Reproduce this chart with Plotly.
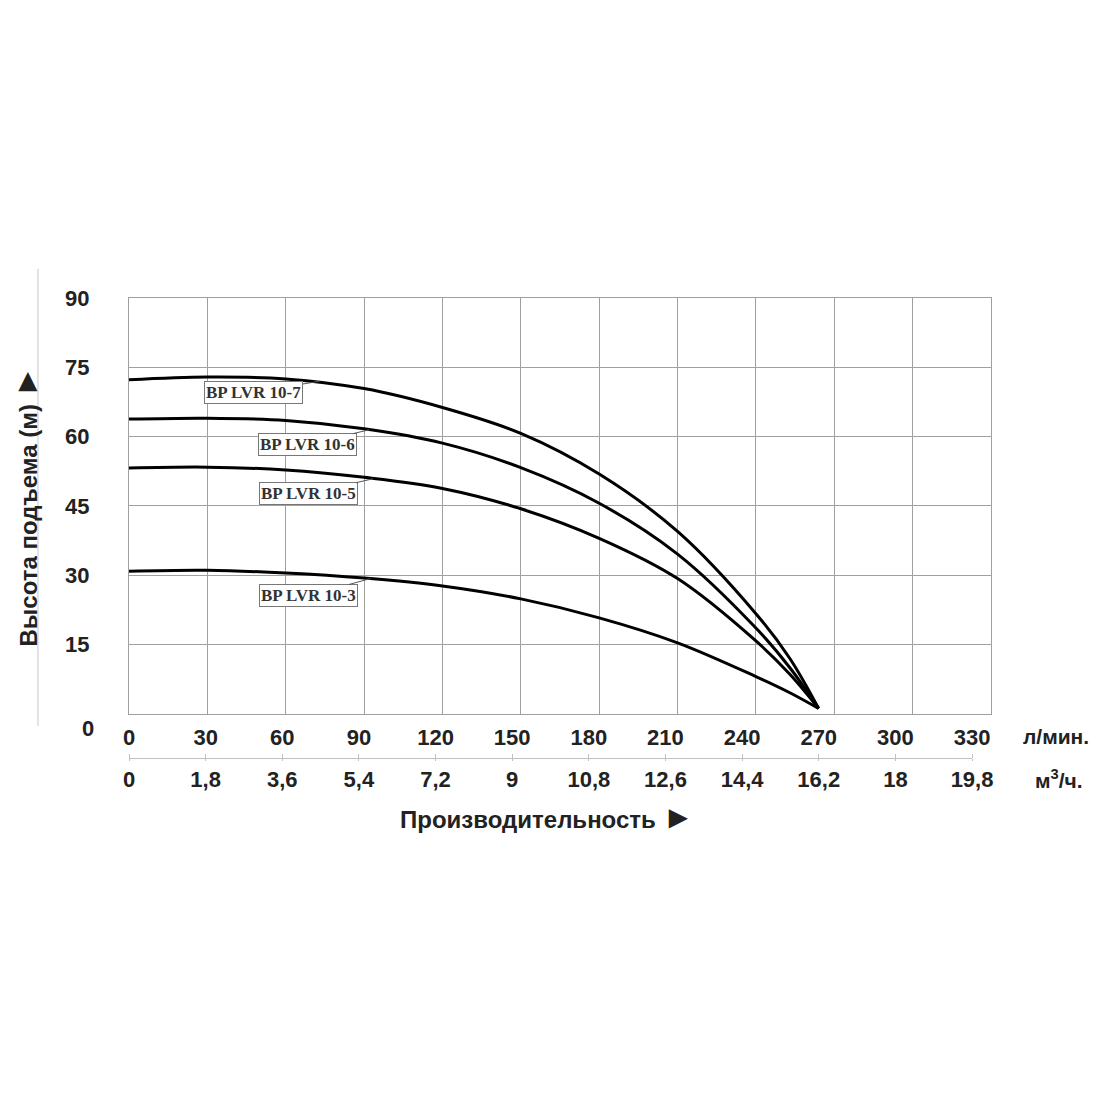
import plotly.graph_objects as go

# расход, л/мин
flow = [0, 30, 60, 90, 120, 150, 180, 210, 240, 253, 264]

# напор, м
head_10_7 = [72.3, 72.9, 72.5, 70.4, 66.3, 60.7, 51.9, 39.5, 21.7, 12.0, 1.2]
head_10_6 = [63.8, 64.0, 63.5, 61.7, 58.6, 53.3, 45.6, 34.6, 18.6, 10.0, 1.2]
head_10_5 = [53.2, 53.4, 52.8, 51.2, 48.8, 44.4, 38.0, 29.3, 15.8, 8.6, 1.2]
head_10_3 = [30.9, 31.1, 30.5, 29.4, 27.7, 24.9, 20.8, 15.4, 8.1, 4.6, 1.2]

models = ['BP LVR 10-7', 'BP LVR 10-6', 'BP LVR 10-5', 'BP LVR 10-3']

lpm_ticks = [0, 30, 60, 90, 120, 150, 180, 210, 240, 270, 300, 330]
m3h_ticks = [0, 1.8, 3.6, 5.4, 7.2, 9, 10.8, 12.6, 14.4, 16.2, 18, 19.8]
m3h_text = ['0', '1,8', '3,6', '5,4', '7,2', '9', '10,8', '12,6', '14,4', '16,2', '18', '19,8']
head_ticks = [15, 30, 45, 60, 75, 90]

# точки выносок (расход, напор) и смещение подписи
label_pts = [(73, 72.0, -66, 11), (92, 61.5, -62, 15), (93.5, 50.9, -65, 15), (92.5, 29.3, -62, 17)]

bold = dict(family='Liberation Sans', size=22, color='#222', weight='bold')
unit_font = dict(family='Liberation Sans', size=21, color='#222', weight='bold')
title_font = dict(family='Liberation Sans', size=24, color='#222', weight='bold')
grid = '#a0a0a0'
tri = '<span style="font-size:32px">►</span>'

fig = go.Figure()
for name, h in zip(models, [head_10_7, head_10_6, head_10_5, head_10_3]):
    fig.add_trace(go.Scatter(x=flow, y=h, mode='lines', name=name, hoverinfo='skip',
                             line=dict(color='black', width=3, shape='spline', smoothing=1.0)))

# пустые трассы в нижней полосе, чтобы шкалы л/мин и м3/ч были нарисованы
fig.add_trace(go.Scatter(x=[0], y=[0], xaxis='x2', yaxis='y2', mode='markers',
                         marker=dict(opacity=0), hoverinfo='skip'))
fig.add_trace(go.Scatter(x=[0], y=[0], xaxis='x3', yaxis='y2', mode='markers',
                         marker=dict(opacity=0), hoverinfo='skip'))

for name, (fx, fy, ax, ay) in zip(models, label_pts):
    fig.add_annotation(x=fx, y=fy, xref='x', yref='y', text=name, showarrow=True,
                       arrowhead=0, arrowwidth=1, arrowcolor='#555', ax=ax, ay=ay,
                       font=dict(family='Liberation Serif', size=17, color='#333', weight='bold'),
                       bordercolor='#777', borderwidth=1, borderpad=1, bgcolor='white')

# y = 0 подписан ниже сетки, как в оригинале
fig.add_annotation(x=-0.0476, y=-0.036, xref='paper', yref='y domain', text='0', showarrow=False,
                   xanchor='center', yanchor='middle', font=bold)
fig.add_annotation(x=-0.12, y=0.5, xref='paper', yref='y domain',
                   text='Высота подъема (м) ' + tri, textangle=-90, showarrow=False,
                   xanchor='center', yanchor='middle', font=title_font)
fig.add_annotation(x=0.485, y=-0.2476, xref='paper', yref='y domain',
                   text='Производительность ' + tri, showarrow=False,
                   xanchor='center', yanchor='middle', font=title_font)
fig.add_annotation(x=1.035, y=-0.053, xref='paper', yref='y domain', text='л/мин.', xanchor='left',
                   yanchor='middle', showarrow=False, font=unit_font)
fig.add_annotation(x=1.049, y=-0.156, xref='paper', yref='y domain', text='м<sup>3</sup>/ч.',
                   xanchor='left', yanchor='middle', showarrow=False, font=unit_font)

# тонкая вертикальная линия слева
fig.add_shape(type='line', xref='paper', yref='paper', x0=-0.1056, x1=-0.1056, y0=0.149, y1=1.058,
              line=dict(color='#c8c8c8', width=1))

fig.update_layout(
    width=1100, height=1100,
    margin=dict(l=121, r=117, t=290, b=307),
    plot_bgcolor='rgba(0,0,0,0)', paper_bgcolor='white',
    showlegend=False,
    xaxis=dict(range=[0, 330], tickvals=lpm_ticks, showticklabels=False, showgrid=True,
               gridcolor=grid, gridwidth=1.4, zeroline=False, showline=True, linecolor=grid,
               linewidth=1.4, mirror=True, ticks=''),
    yaxis=dict(range=[0, 90], domain=[0.173, 1], tickvals=head_ticks, showgrid=True,
               gridcolor=grid, gridwidth=1.4, zeroline=False, showline=True, linecolor=grid,
               linewidth=1.4, mirror=True, ticks='outside', ticklen=34,
               tickcolor='rgba(0,0,0,0)', tickfont=bold),
    yaxis2=dict(domain=[0, 0.08], range=[0, 1], visible=False),
    xaxis2=dict(range=[0, 330], domain=[0, 0.978], anchor='free', position=0.0855, side='top',
                tickvals=lpm_ticks, tickfont=bold, showline=True, linecolor='#c0c0c0',
                ticks='outside', ticklen=4, tickcolor='#c0c0c0', showgrid=False, zeroline=False),
    xaxis3=dict(range=[0, 19.8], domain=[0, 0.978], anchor='free', position=0.0855, side='bottom',
                tickvals=m3h_ticks, ticktext=m3h_text, tickfont=bold, showline=False,
                ticks='outside', ticklen=2, tickcolor='#c0c0c0', showgrid=False, zeroline=False),
)

fig.write_html('out.html')
